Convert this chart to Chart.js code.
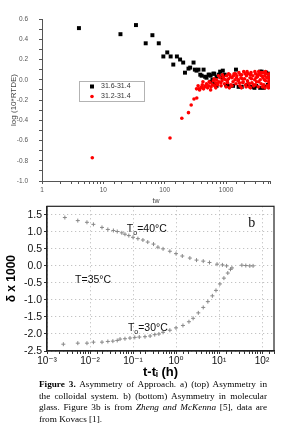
<!DOCTYPE html>
<html>
<head>
<meta charset="utf-8">
<script src="https://cdn.jsdelivr.net/npm/chart.js@4.4.0/dist/chart.umd.min.js"></script>
<style>
  html, body { margin: 0; padding: 0; background: #fff; }
  body { width: 285px; height: 435px; position: relative; overflow: hidden; }
  #topChart { position: absolute; left: 0; top: 0; }
  #bottomChart { position: absolute; left: 0; top: 198px; }
  #caption {
    position: absolute; left: 39px; top: 379px; width: 228px;
    font: 9.2px/11.6px 'Liberation Serif', 'DejaVu Serif', serif; color: #000;
  }
  #caption div { text-align: justify; text-align-last: justify; }
  #caption div.last { text-align-last: left; }
</style>
</head>
<body>
<canvas id="topChart" width="285" height="205"></canvas>
<canvas id="bottomChart" width="285" height="182"></canvas>
<div id="caption">
  <div><b>Figure 3.</b> Asymmetry of Approach. a) (top) Asymmetry in</div>
  <div>the colloidal system. b) (bottom) Asymmetry in molecular</div>
  <div>glass. Figure 3b is from <i>Zheng and McKenna</i> [5], data are</div>
  <div class="last">from Kovacs [1].</div>
</div>
<script>
// ---- top chart (a): colloidal system ----
const blackLabel = '31.6-31.4';
const blackX = [4.0, 19, 34, 49, 63, 80, 95, 110, 125, 138, 158, 178, 200, 214, 244, 295, 310, 355, 380, 430, 455, 535, 620, 885, 1450, 3600,
  480, 520, 560, 600, 640, 700, 760, 800, 880, 950, 1100, 1300, 1800, 2200, 2600, 3100, 3600, 4200, 4800, 3800, 4500, 5000, 650, 700, 560,
  260, 330, 400, 1000, 1600, 2900, 4100];
const blackY = [0.51, 0.45, 0.54, 0.36, 0.44, 0.36, 0.23, 0.27, 0.23, 0.15, 0.23, 0.20, 0.17, 0.07, 0.11, 0.17, 0.10, 0.10, 0.05, 0.10, 0.03, 0.05, 0.06, 0.09, 0.10, 0.08,
  0.02, 0.05, 0.04, 0.00, 0.06, 0.03, 0.05, 0.08, 0.02, 0.05, -0.06, -0.06, -0.07, -0.05, -0.07, -0.06, -0.08, -0.07, -0.05, 0.08, 0.07, 0.06, -0.04, -0.06, -0.02,
  0.12, 0.09, 0.04, -0.05, -0.07, -0.08, -0.08];

const redLabel = '31.2-31.4';
const redX = [6.6, 122, 190, 244, 270, 300, 333, 360, 400,
  330, 350, 370, 390, 410, 430, 450, 480, 500, 520, 550, 570, 600, 620, 650, 680, 700, 730, 760, 800, 830, 860, 900, 940, 980,
  1020, 1060, 1100, 1150, 1200, 1250, 1300, 1350, 1400, 1450, 1500, 1560, 1620, 1680, 1750, 1800, 1870, 1940, 2000, 2080, 2150,
  2230, 2300, 2380, 2460, 2550, 2640, 2730, 2830, 2930, 3030, 3140, 3250, 3360, 3480, 3600, 3720, 3850, 3980, 4120, 4260, 4400,
  4550, 4700, 4850, 5000, 5100, 5100,
  420, 560, 750, 1000, 1250, 1600, 1900, 2200, 2600, 3000, 3400, 3900, 4400, 4900, 5050, 1100, 1700, 2400, 3200, 4200,
  460, 530, 640, 720, 820, 920, 1050, 1180, 1320, 1480, 1650, 1830, 2050, 2280, 2500, 2780, 3080, 3420, 3780, 4150, 4600, 5000,
  680, 870, 1130, 1420, 1780, 2120, 2500, 2950, 3550, 4300, 4950];
const redY = [-0.77, -0.575, -0.38, -0.325, -0.25, -0.19, -0.18, -0.09, -0.07,
  -0.09, -0.06, -0.10, -0.08, -0.05, -0.09, -0.07, -0.04, -0.08, -0.06, -0.03, -0.07, -0.05, -0.01, -0.06, -0.03, 0.00, -0.05, -0.02, 0.02, -0.06, -0.01, 0.03, -0.04, 0.00,
  0.04, -0.03, 0.01, 0.05, -0.05, 0.02, -0.02, 0.06, 0.00, -0.04, 0.04, -0.01, 0.07, -0.06, 0.02, 0.05, -0.03, 0.08, 0.01, -0.05, 0.04,
  -0.01, 0.06, -0.07, 0.02, 0.07, -0.03, 0.04, -0.06, 0.00, 0.06, -0.02, 0.03, -0.07, 0.05, 0.00, -0.04, 0.07, 0.02, -0.05, 0.04, -0.01,
  0.06, -0.06, 0.03, 0.00, -0.04, 0.06,
  -0.02, -0.10, 0.04, -0.07, -0.06, 0.00, -0.02, 0.08, 0.01, -0.05, 0.08, -0.07, 0.08, -0.08, 0.02, 0.06, 0.05, -0.04, 0.05, 0.00,
  -0.06, -0.02, 0.01, -0.04, -0.03, 0.01, -0.01, 0.03, 0.04, 0.02, -0.03, 0.01, 0.06, -0.03, 0.05, -0.05, 0.02, -0.02, 0.04, 0.07, 0.02, -0.06,
  -0.08, 0.05, -0.08, 0.06, -0.08, -0.07, -0.08, 0.08, 0.07, -0.08, -0.02];

// ---- bottom chart (b): molecular glass, Kovacs data ----
const upperX = [0.0026, 0.0052, 0.0085, 0.012, 0.019, 0.026, 0.035, 0.043, 0.055, 0.065, 0.08, 0.1, 0.13, 0.17, 0.22, 0.3, 0.38, 0.5,
  0.72, 1.0, 1.4, 2.1, 3.0, 4.3, 6.0, 9.0, 12, 15, 34, 42, 52, 62];
const upperY = [1.42, 1.33, 1.28, 1.22, 1.13, 1.07, 1.04, 1.01, 0.97, 0.93, 0.89, 0.84, 0.80, 0.76, 0.70, 0.64, 0.55, 0.50,
  0.43, 0.36, 0.29, 0.23, 0.17, 0.14, 0.10, 0.05, 0.03, 0.00, 0.02, 0.01, 0.00, 0.00];
const lowerX = [0.0024, 0.0052, 0.0085, 0.012, 0.019, 0.026, 0.034, 0.043, 0.05, 0.065, 0.085, 0.11, 0.14, 0.19, 0.25, 0.32, 0.4, 0.5,
  0.72, 1.0, 1.45, 2.0, 2.5, 3.3, 4.3, 5.5, 7.0, 8.5, 10.5, 13, 16, 18.5, 20];
const lowerY = [-2.30, -2.27, -2.27, -2.24, -2.24, -2.22, -2.21, -2.19, -2.15, -2.14, -2.12, -2.10, -2.09, -2.08, -2.06, -2.02, -2.00, -1.95,
  -1.89, -1.82, -1.75, -1.64, -1.54, -1.38, -1.22, -1.05, -0.88, -0.72, -0.53, -0.36, -0.21, -0.10, -0.06];

const decadeLabels = { '-3': '10\u207B\u00B3', '-2': '10\u207B\u00B2', '-1': '10\u207B\u00B9', '0': '10\u2070', '1': '10\u00B9', '2': '10\u00B2' };

function toPoints(xs, ys) {
  return xs.map((x, i) => ({ x: x, y: ys[i] }));
}

function decadeOf(value) {
  const l = Math.log10(value);
  return Math.abs(l - Math.round(l)) < 1e-6 ? Math.round(l) : null;
}

const SANS = '"Liberation Sans", Arial, "DejaVu Sans", sans-serif';

// legend in a dotted box inside the plot
const boxLegend = {
  id: 'boxLegend',
  afterDraw(chart) {
    const { ctx, chartArea } = chart;
    const left = chartArea.left + 37, top = chartArea.top + 62;
    ctx.save();
    ctx.strokeStyle = '#666';
    ctx.lineWidth = 1;
    ctx.setLineDash([1, 1]);
    ctx.strokeRect(left + 0.5, top + 0.5, 65, 20);
    ctx.setLineDash([]);
    ctx.font = '7px ' + SANS;
    ctx.textBaseline = 'middle';
    chart.data.datasets.forEach((ds, i) => {
      const cy = top + 5.5 + i * 10;
      ctx.fillStyle = ds.backgroundColor;
      if (ds.pointStyle === 'rect') {
        ctx.fillRect(left + 11, cy - 2, 4, 4);
      } else {
        ctx.beginPath();
        ctx.arc(left + 13, cy, 1.8, 0, Math.PI * 2);
        ctx.fill();
      }
      ctx.fillStyle = '#333';
      ctx.fillText(ds.label, left + 22, cy);
    });
    ctx.restore();
  }
};

new Chart(document.getElementById('topChart').getContext('2d'), {
  type: 'scatter',
  data: {
    datasets: [
      { label: blackLabel, data: toPoints(blackX, blackY), pointStyle: 'rect', pointRadius: 2.8,
        backgroundColor: '#000', borderColor: '#000', borderWidth: 0, order: 1 },
      { label: redLabel, data: toPoints(redX, redY), pointStyle: 'circle', pointRadius: 1.8,
        backgroundColor: '#ff0000', borderColor: '#ff0000', borderWidth: 0, order: 0 }
    ]
  },
  options: {
    responsive: false,
    animation: false,
    layout: { padding: { top: 19, right: 15, left: 0, bottom: 0 } },
    plugins: { legend: { display: false }, tooltip: { enabled: false } },
    scales: {
      x: {
        type: 'logarithmic', min: 1, max: 5200,
        afterFit: (scale) => { scale.height = 24; },
        border: { color: '#555', width: 1 },
        grid: { drawOnChartArea: false, tickLength: 3, tickColor: '#555' },
        ticks: {
          autoSkip: false, maxRotation: 0, padding: 2, color: '#555',
          font: { size: 6.5, family: SANS },
          callback: (value) => decadeOf(value) !== null ? String(Math.round(value)) : ''
        },
        title: { display: true, text: 'tw', color: '#444', font: { size: 7, family: SANS }, padding: { top: 1, bottom: 0 } }
      },
      y: {
        min: -1, max: 0.6,
        afterFit: (scale) => { scale.width = 42; },
        border: { color: '#555', width: 1 },
        grid: { drawOnChartArea: false, tickLength: 3, tickColor: '#555' },
        ticks: {
          stepSize: 0.1, autoSkip: false, padding: 11, color: '#555',
          font: { size: 6.5, family: SANS },
          callback: (value) => {
            const v = Math.round(value * 10);
            return v % 2 === 0 ? (v / 10).toFixed(1) : '';
          }
        },
        title: { display: true, text: 'log (10*RTDE)', color: '#444', font: { size: 8, family: SANS }, padding: { top: 9, bottom: 0 } }
      }
    }
  },
  plugins: [boxLegend]
});

// closed frame around the plot area
const frameBox = {
  id: 'frameBox',
  afterDatasetsDraw(chart) {
    const { ctx, chartArea: a } = chart;
    ctx.save();
    ctx.strokeStyle = '#222';
    ctx.lineWidth = 1.2;
    ctx.strokeRect(a.left, a.top, a.right - a.left, a.bottom - a.top);
    ctx.restore();
  }
};

// in-plot text: T0 labels and panel letter
const curveLabels = {
  id: 'curveLabels',
  afterDatasetsDraw(chart, args, opts) {
    const { ctx, scales: { x, y } } = chart;
    ctx.save();
    ctx.fillStyle = '#111';
    ctx.textBaseline = 'middle';
    opts.items.forEach(item => {
      let px = x.getPixelForValue(item.x);
      const py = y.getPixelForValue(item.y);
      ctx.font = item.font;
      ctx.fillText(item.main, px, py);
      px += ctx.measureText(item.main).width;
      if (item.sub) {
        ctx.font = '7px ' + SANS;
        ctx.fillText(item.sub, px, py + 4);
        px += ctx.measureText(item.sub).width;
      }
      if (item.rest) {
        ctx.font = item.font;
        ctx.fillText(item.rest, px, py);
      }
    });
    ctx.restore();
  }
};

new Chart(document.getElementById('bottomChart').getContext('2d'), {
  type: 'scatter',
  data: {
    datasets: [
      { label: 'T0=40°C', data: toPoints(upperX, upperY), pointStyle: 'cross', pointRadius: 2,
        borderColor: '#888', borderWidth: 1 },
      { label: 'T0=30°C', data: toPoints(lowerX, lowerY), pointStyle: 'cross', pointRadius: 2,
        borderColor: '#888', borderWidth: 1 }
    ]
  },
  options: {
    responsive: false,
    animation: false,
    layout: { padding: { top: 7, right: 11, left: 0, bottom: 0 } },
    plugins: {
      legend: { display: false },
      tooltip: { enabled: false },
      curveLabels: {
        items: [
          { x: 0.072, y: 1.07, main: 'T', sub: 'o', rest: '=40°C', font: '10.5px ' + SANS },
          { x: 0.0045, y: -0.42, main: 'T=35°C', font: '10.5px ' + SANS },
          { x: 0.076, y: -1.83, main: 'T', sub: 'o', rest: '=30°C', font: '10.5px ' + SANS },
          { x: 48, y: 1.25, main: 'b', font: '14px "Liberation Serif", serif' }
        ]
      }
    },
    scales: {
      x: {
        type: 'logarithmic', min: 0.001, max: 190,
        afterFit: (scale) => { scale.height = 29; },
        border: { color: '#222', width: 1.2, dash: [1, 3] },
        grid: {
          color: (c) => decadeOf(c.tick.value) !== null ? '#b5b5b5' : 'rgba(0,0,0,0)',
          tickColor: '#333', tickLength: 3
        },
        ticks: {
          autoSkip: false, maxRotation: 0, padding: 1, color: '#111',
          font: { size: 10, family: SANS },
          callback: (value) => {
            const d = decadeOf(value);
            return d !== null ? decadeLabels[String(d)] : '';
          }
        },
        title: { display: true, text: 't-t\u1D62 (h)', color: '#000', font: { size: 13, weight: 'bold', family: SANS }, padding: { top: 0, bottom: 0 } }
      },
      y: {
        min: -2.5, max: 1.75,
        afterFit: (scale) => { scale.width = 47; },
        border: { color: '#222', width: 1.2, dash: [1, 3] },
        grid: { color: '#b5b5b5', tickColor: '#333', tickLength: 3 },
        ticks: {
          stepSize: 0.5, includeBounds: false, autoSkip: false, padding: 2, color: '#111',
          font: { size: 10.5, family: SANS },
          callback: (value) => Number(value).toFixed(1)
        },
        title: { display: true, text: '\u03B4 x 1000', color: '#000', font: { size: 12, weight: 'bold', family: SANS }, padding: { top: 4, bottom: 0 } }
      }
    }
  },
  plugins: [frameBox, curveLabels]
});
</script>
</body>
</html>
